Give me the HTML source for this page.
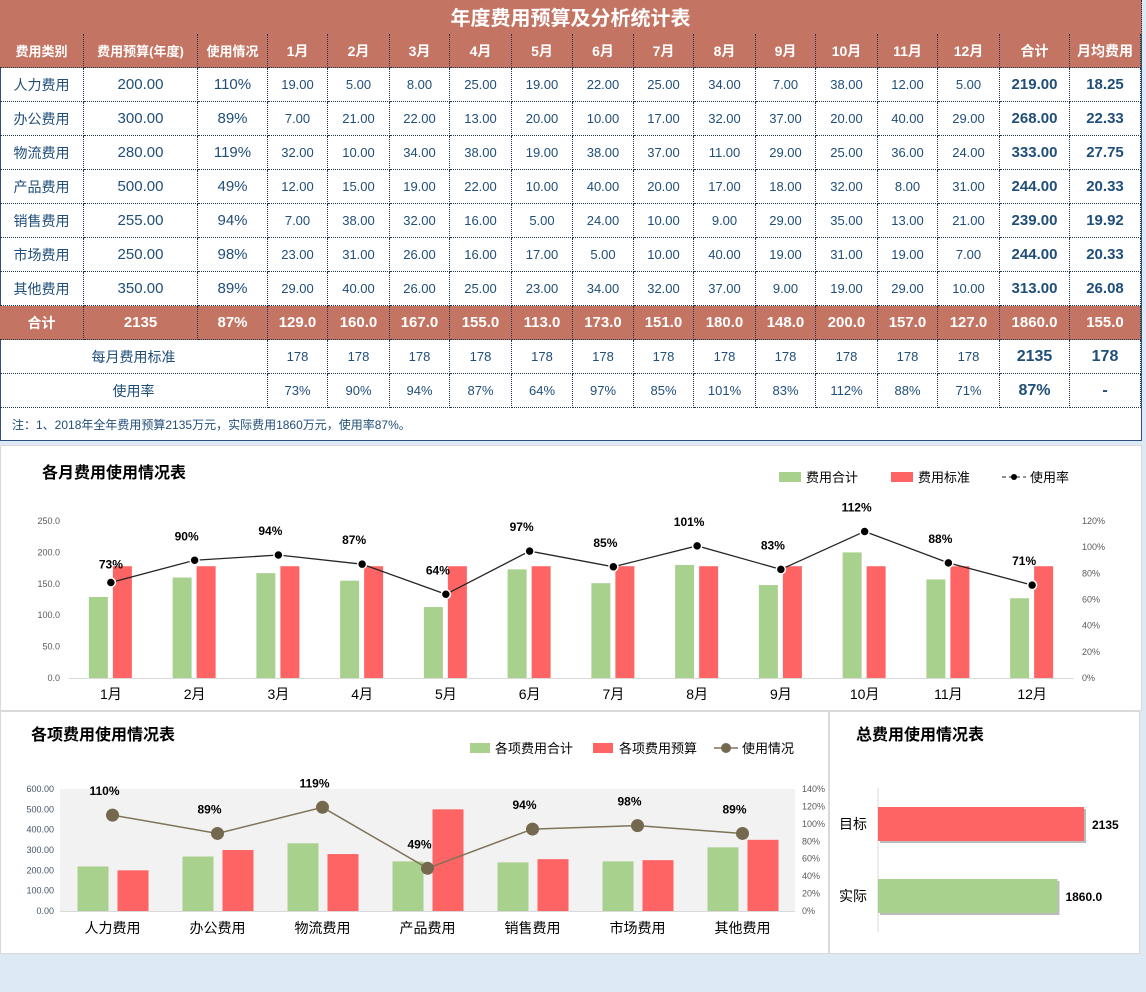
<!DOCTYPE html>
<html><head><meta charset="utf-8">
<style>
*{margin:0;padding:0;box-sizing:border-box}
body{width:1146px;height:992px;background:#dde9f5;font-family:"Liberation Sans","Noto Sans CJK SC",sans-serif;position:relative;overflow:hidden}
#tbl{position:absolute;left:0;top:0;width:1142px;height:441px;background:#fff;border:1px solid #2f4f7f}
.c{position:absolute;display:flex;align-items:center;justify-content:center;color:#1f4e79;border-right:1px dotted #1f3550;border-bottom:1px dotted #1f3550;white-space:nowrap}
.h{background:#c47462;color:#fff;font-weight:bold}
.panel{position:absolute;background:#fff;border:1px solid #d9d9d9}
svg text{font-family:"Liberation Sans","Noto Sans CJK SC",sans-serif}
</style></head><body>
<div id="tbl"></div>
<div class="panel" style="left:0;top:445px;width:1142px;height:266px"></div>
<div class="panel" style="left:0;top:711px;width:829px;height:243px"></div>
<div class="panel" style="left:829px;top:711px;width:311px;height:243px"></div>
<svg id="sv" width="1146" height="992" style="position:absolute;left:0;top:0"></svg>
<script>
// ---------- table data ----------
const cats=["人力费用","办公费用","物流费用","产品费用","销售费用","市场费用","其他费用"];
const budgets=[200,300,280,500,255,250,350];
const usagePct=[110,89,119,49,94,98,89];
const monthly=[
[19,5,8,25,19,22,25,34,7,38,12,5],
[7,21,22,13,20,10,17,32,37,20,40,29],
[32,10,34,38,19,38,37,11,29,25,36,24],
[12,15,19,22,10,40,20,17,18,32,8,31],
[7,38,32,16,5,24,10,9,29,35,13,21],
[23,31,26,16,17,5,10,40,19,31,19,7],
[29,40,26,25,23,34,32,37,9,19,29,10]];
const catTotals=[219,268,333,244,239,244,313];
const catAvg=["18.25","22.33","27.75","20.33","19.92","20.33","26.08"];
const months=["1月","2月","3月","4月","5月","6月","7月","8月","9月","10月","11月","12月"];
const monthTotals=[129,160,167,155,113,173,151,180,148,200,157,127];
const monthStd=[178,178,178,178,178,178,178,178,178,178,178,178];
const monthRate=[73,90,94,87,64,97,85,101,83,112,88,71];
const target=2135, actual=1860;

const T=document.getElementById('tbl');
const xs=[0,84,198,268,328,390,450,512,573,634,694,756,816,878,938,1000,1070,1141];
function cell(col,span,row,txt,cls,fs,name){
  const d=document.createElement('div');
  d.className='c '+(cls||'');
  
  
  const y=row*34;
  d.style.left=(xs[col]-1)+'px';d.style.top=(y-1)+'px';
  d.style.width=(xs[col+span]-xs[col])+'px';d.style.height='34px';
  d.style.fontSize=fs+'px';
  d.textContent=txt;T.appendChild(d);return d;
}
const title=document.createElement('div');
title.className='c h';


title.style.cssText='left:-1px;top:-1px;width:1142px;height:34px;font-size:20px;border-bottom:1px solid #c47462';
title.textContent='年度费用预算及分析统计表';T.appendChild(title);
const hdr=["费用类别","费用预算(年度)","使用情况"].concat(months,["合计","月均费用"]);
hdr.forEach((t,i)=>cell(i,1,1,t,'h',i<3?13:14,'header-cell'));
cats.forEach((c,r)=>{
  const row=r+2;
  cell(0,1,row,c,'',14,'category-name');
  cell(1,1,row,budgets[r].toFixed(2),'',15,'budget-value');
  cell(2,1,row,usagePct[r]+'%','',15,'usage-value');
  monthly[r].forEach((v,m)=>cell(3+m,1,row,v.toFixed(2),'',13,'month-value'));
  cell(15,1,row,catTotals[r].toFixed(2),'',15,'row-total').style.fontWeight='bold';
  cell(16,1,row,catAvg[r],'',15,'row-average').style.fontWeight='bold';
});
cell(0,1,9,'合计','h',14,'total-label');
cell(1,1,9,'2135','h',15,'total-budget');
cell(2,1,9,'87%','h',15,'total-usage');
monthTotals.forEach((v,m)=>cell(3+m,1,9,v.toFixed(1),'h',15,'month-total'));
cell(15,1,9,'1860.0','h',15,'grand-total');
cell(16,1,9,'155.0','h',15,'grand-average');
cell(0,3,10,'每月费用标准','',14,'standard-label');
monthStd.forEach((v,m)=>cell(3+m,1,10,v,'',13,'month-standard'));
cell(15,1,10,'2135','',16,'standard-total').style.fontWeight='bold';
cell(16,1,10,'178','',16,'standard-average').style.fontWeight='bold';
cell(0,3,11,'使用率','',14,'rate-label');
monthRate.forEach((v,m)=>cell(3+m,1,11,v+'%','',13,'month-rate'));
cell(15,1,11,'87%','',16,'rate-total').style.fontWeight='bold';
cell(16,1,11,'-','',16,'rate-average').style.fontWeight='bold';
const note=cell(0,17,12,'注：1、2018年全年费用预算2135万元，实际费用1860万元，使用率87%。','',12,'table-note');
note.style.justifyContent='flex-start';note.style.paddingLeft='12px';note.style.borderRight='none';note.style.borderBottom='none';note.style.height='32px';

// ---------- charts ----------
const S=document.getElementById('sv');const NS='http://www.w3.org/2000/svg';
function el(tag,attrs,name,txt){const e=document.createElementNS(NS,tag);for(const k in attrs)e.setAttribute(k,attrs[k]);
  
  
  if(txt!==undefined)e.textContent=txt;S.appendChild(e);return e;}
const GREEN='#a9d18e',RED='#ff6464';

// chart 1
el('text',{x:42,y:478,'font-size':16,'font-weight':'bold',fill:'#000'},'monthly-chart-title','各月费用使用情况表');
const c1={x0:69,x1:1074,y0:678,h:157};
const y1=v=>c1.y0-v/250*c1.h, r1=p=>c1.y0-p/120*c1.h, cw1=(c1.x1-c1.x0)/12, cx1=i=>c1.x0+cw1*(i+0.5);
[0,50,100,150,200,250].forEach(v=>el('text',{x:60,y:y1(v)+3,'font-size':9,fill:'#595959','text-anchor':'end'},'y-tick-left',v.toFixed(1)));
[0,20,40,60,80,100,120].forEach(v=>el('text',{x:1082,y:r1(v)+3,'font-size':9,fill:'#595959'},'y-tick-right',v+'%'));
el('line',{x1:c1.x0,x2:c1.x1,y1:c1.y0+0.5,y2:c1.y0+0.5,stroke:'#d9d9d9'},'x-axis');
months.forEach((m,i)=>{
  el('rect',{x:cx1(i)-22,y:y1(monthTotals[i]),width:19,height:c1.y0-y1(monthTotals[i]),fill:GREEN},'bar-total');
  el('rect',{x:cx1(i)+2,y:y1(monthStd[i]),width:19,height:c1.y0-y1(monthStd[i]),fill:RED},'bar-standard');
  el('text',{x:cx1(i),y:699,'font-size':14,fill:'#000','text-anchor':'middle'},'x-tick',m);
});
el('polyline',{points:monthRate.map((p,i)=>cx1(i)+','+r1(p)).join(' '),fill:'none',stroke:'#262626','stroke-width':1.3},'rate-line');
monthRate.forEach((p,i)=>{
  el('circle',{cx:cx1(i),cy:r1(p),r:4.5,fill:'#000',stroke:'#fff','stroke-width':1.5},'rate-point');
  el('text',{x:cx1(i)-(i==0?0:8),y:r1(p)-(i==0?14:20),'font-size':12,'font-weight':'bold',fill:'#000','text-anchor':'middle'},'rate-label',p+'%');
});
el('rect',{x:779,y:472,width:22,height:10,fill:GREEN},'legend-total-swatch');
el('text',{x:806,y:482,'font-size':13},'legend-total','费用合计');
el('rect',{x:891,y:472,width:22,height:10,fill:RED},'legend-standard-swatch');
el('text',{x:918,y:482,'font-size':13},'legend-standard','费用标准');
el('line',{x1:1002,x2:1026,y1:477,y2:477,stroke:'#262626','stroke-dasharray':'4,3'},'legend-rate-line');
el('circle',{cx:1014,cy:477,r:3,fill:'#000'},'legend-rate-dot');
el('text',{x:1030,y:482,'font-size':13},'legend-rate','使用率');

// chart 2
el('text',{x:31,y:740,'font-size':16,'font-weight':'bold',fill:'#000'},'category-chart-title','各项费用使用情况表');
const c2={x0:60,x1:795,y0:911,h:122};
const y2=v=>c2.y0-v/600*c2.h, r2=p=>c2.y0-p/140*c2.h, cw2=(c2.x1-c2.x0)/7, cx2=i=>c2.x0+cw2*(i+0.5);
el('rect',{x:c2.x0,y:c2.y0-c2.h,width:c2.x1-c2.x0,height:c2.h,fill:'#f2f2f2'},'plot-background');
[0,100,200,300,400,500,600].forEach(v=>el('text',{x:54,y:y2(v)+3,'font-size':9,fill:'#44546a','text-anchor':'end'},'y-tick-left',v.toFixed(2)));
[0,20,40,60,80,100,120,140].forEach(v=>el('text',{x:802,y:r2(v)+3,'font-size':9,fill:'#595959'},'y-tick-right',v+'%'));
el('line',{x1:c2.x0,x2:c2.x1,y1:c2.y0+0.5,y2:c2.y0+0.5,stroke:'#d9d9d9'},'x-axis');
cats.forEach((c,i)=>{
  el('rect',{x:cx2(i)-35,y:y2(catTotals[i]),width:31,height:c2.y0-y2(catTotals[i]),fill:GREEN},'bar-category-total');
  el('rect',{x:cx2(i)+5,y:y2(budgets[i]),width:31,height:c2.y0-y2(budgets[i]),fill:RED},'bar-category-budget');
  el('text',{x:cx2(i),y:933,'font-size':14,fill:'#000','text-anchor':'middle'},'x-tick',c);
});
el('polyline',{points:usagePct.map((p,i)=>cx2(i)+','+r2(p)).join(' '),fill:'none',stroke:'#7f7358','stroke-width':1.5},'usage-line');
usagePct.forEach((p,i)=>{
  el('circle',{cx:cx2(i),cy:r2(p),r:6.5,fill:'#74694e'},'usage-point');
  el('text',{x:cx2(i)-8,y:r2(p)-20,'font-size':12,'font-weight':'bold',fill:'#000','text-anchor':'middle'},'usage-label',p+'%');
});
el('rect',{x:470,y:743,width:20,height:10,fill:GREEN},'legend-cat-total-swatch');
el('text',{x:495,y:753,'font-size':13},'legend-cat-total','各项费用合计');
el('rect',{x:593,y:743,width:20,height:10,fill:RED},'legend-cat-budget-swatch');
el('text',{x:619,y:753,'font-size':13},'legend-cat-budget','各项费用预算');
el('line',{x1:714,x2:738,y1:748,y2:748,stroke:'#7f7358','stroke-width':1.5},'legend-usage-line');
el('circle',{cx:726,cy:748,r:5,fill:'#74694e'},'legend-usage-dot');
el('text',{x:742,y:753,'font-size':13},'legend-usage','使用情况');

// chart 3
el('text',{x:856,y:740,'font-size':16,'font-weight':'bold',fill:'#000'},'total-chart-title','总费用使用情况表');
const x3=v=>878+v/2135*206;
el('line',{x1:878,x2:878,y1:788,y2:932,stroke:'#d9d9d9'},'y-axis');
el('rect',{x:880,y:809,width:x3(target)-878,height:34,fill:'#bbb'},'bar-shadow');
el('rect',{x:878,y:807,width:x3(target)-878,height:34,fill:RED},'bar-target');
el('rect',{x:880,y:881,width:x3(actual)-878,height:34,fill:'#bbb'},'bar-shadow');
el('rect',{x:878,y:879,width:x3(actual)-878,height:34,fill:GREEN},'bar-actual');
el('text',{x:867,y:829,'font-size':14,'text-anchor':'end'},'category-label','目标');
el('text',{x:867,y:901,'font-size':14,'text-anchor':'end'},'category-label','实际');
el('text',{x:x3(target)+8,y:829,'font-size':12,'font-weight':'bold'},'target-value',String(target));
el('text',{x:x3(actual)+8,y:901,'font-size':12,'font-weight':'bold'},'actual-value',actual.toFixed(1));
</script>
</body></html>
